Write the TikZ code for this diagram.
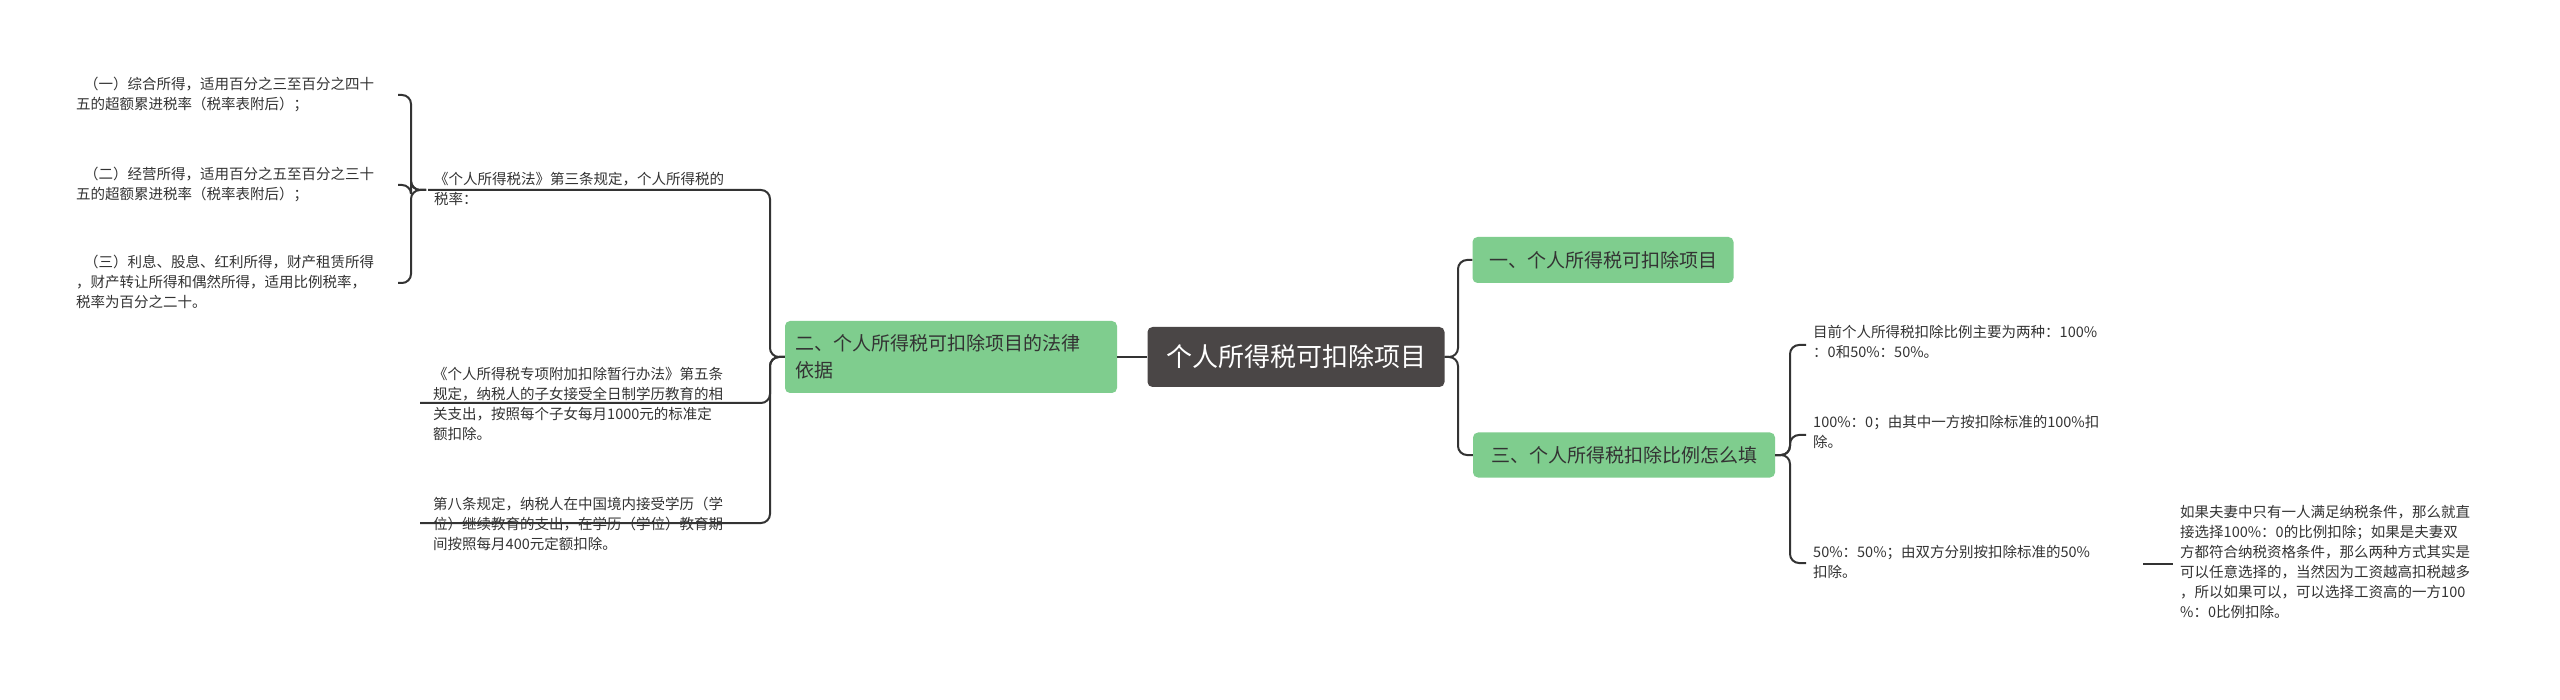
\documentclass[tikz,border=0pt]{standalone}
\usepackage{fontspec}
\setmainfont{Noto Sans CJK SC}
\begin{document}
\begin{tikzpicture}[x=1pt,y=-1pt,
  leaf/.style={anchor=north west,inner sep=0pt,align=left,text=black!80,font=\fontsize{14.5}{20}\selectfont},
  br/.style={draw=none,fill=green!50!teal!35!lime!40,rounded corners=5pt,inner sep=0pt,align=left,text=black!80,font=\fontsize{20}{27}\selectfont},
  ln/.style={draw=black!80,line width=2pt,rounded corners=9pt}]
\definecolor{gbox}{HTML}{7FCD8E}
\definecolor{rbox}{HTML}{4A4646}
\useasboundingbox[fill=white] (0,0) rectangle (2560,700);
% root
\node[fill=rbox,rounded corners=5pt,minimum width=297pt,minimum height=60pt,text=white,font=\fontsize{26}{30}\selectfont] (root) at (1296,357) {个人所得税可扣除项目};
% branches
\node[fill=gbox,rounded corners=5pt,minimum width=261pt,minimum height=46pt,text=black!80,font=\fontsize{19}{24}\selectfont] (b1) at (1603,260) {一、个人所得税可扣除项目};
\node[fill=gbox,rounded corners=5pt,minimum width=302pt,minimum height=45pt,text=black!80,font=\fontsize{19}{24}\selectfont] (b3) at (1624,455) {三、个人所得税扣除比例怎么填};
\node[fill=gbox,rounded corners=5pt,minimum width=332pt,minimum height=72pt] (b2) at (951,357) {};
\node[anchor=west,inner sep=0pt,align=left,text=black!80,font=\fontsize{19}{27}\selectfont] (b2t) at (795,357) {二、个人所得税可扣除项目的法律\\依据};
% left leaves
\node[leaf] (L1) at (434,172) {《个人所得税法》第三条规定，个人所得税的\\税率：};
\node[leaf] (L2) at (433,367) {《个人所得税专项附加扣除暂行办法》第五条\\规定，纳税人的子女接受全日制学历教育的相\\关支出，按照每个子女每月1000元的标准定\\额扣除。};
\node[leaf] (L3) at (433,497) {第八条规定，纳税人在中国境内接受学历（学\\位）继续教育的支出，在学历（学位）教育期\\间按照每月400元定额扣除。};
\node[leaf] (I1) at (76,77) {\hspace{8pt}（一）综合所得，适用百分之三至百分之四十\\五的超额累进税率（税率表附后）；};
\node[leaf] (I2) at (76,167) {\hspace{8pt}（二）经营所得，适用百分之五至百分之三十\\五的超额累进税率（税率表附后）；};
\node[leaf] (I3) at (76,255) {\hspace{8pt}（三）利息、股息、红利所得，财产租赁所得\\，财产转让所得和偶然所得，适用比例税率，\\税率为百分之二十。};
% right leaves
\node[leaf] (R1) at (1813,325) {目前个人所得税扣除比例主要为两种：100\%\\：0和50\%：50\%。};
\node[leaf] (R2) at (1813,415) {100\%：0；由其中一方按扣除标准的100\%扣\\除。};
\node[leaf] (R3) at (1813,545) {50\%：50\%；由双方分别按扣除标准的50\%\\扣除。};
\node[leaf] (F1) at (2180,505) {如果夫妻中只有一人满足纳税条件，那么就直\\接选择100\%：0的比例扣除；如果是夫妻双\\方都符合纳税资格条件，那么两种方式其实是\\可以任意选择的，当然因为工资越高扣税越多\\，所以如果可以，可以选择工资高的一方100\\\%：0比例扣除。};
% connectors
\coordinate (rootR) at (root.east);
\draw[ln] (rootR) -- (1458,357) |- (b1.west);
\draw[ln] (rootR) -- (1458,357) |- (b3.west);
\draw[ln] (root.west) -- (b2.east);
\coordinate (b2L) at (b2.west);
\coordinate (eL1) at (L1.west |- 0,190);
\coordinate (eL2) at (L2.west |- 0,403);
\coordinate (eL3) at (L3.west |- 0,523);
\draw[ln] (b2L) -- (770,357) |- ([xshift=-6pt]eL1);
\draw[ln] (b2L) -- (770,357) |- ([xshift=-13pt]eL2);
\draw[ln] (b2L) -- (770,357) |- ([xshift=-13pt]eL3);
\coordinate (L1L) at (426,190);
\coordinate (e1) at (398,95);
\coordinate (e2) at (398,185);
\coordinate (e3) at (398,283);
\draw[ln] (L1L) -- (411,190) |- (e1);
\draw[ln] (L1L) -- (411,190) |- (e2);
\draw[ln] (L1L) -- (411,190) |- (e3);
\coordinate (b3R) at (b3.east);
\coordinate (f1) at (1806,345);
\coordinate (f2) at (1806,435);
\coordinate (f3) at (1806,563);
\draw[ln] (b3R) -- (1790,455) |- (f1);
\draw[ln] (b3R) -- (1790,455) |- (f2);
\draw[ln] (b3R) -- (1790,455) |- (f3);
\coordinate (g1) at (2143,564);
\coordinate (g2) at (2173,564);
\draw[ln] (g1) -- (g2);
\end{tikzpicture}
\end{document}
